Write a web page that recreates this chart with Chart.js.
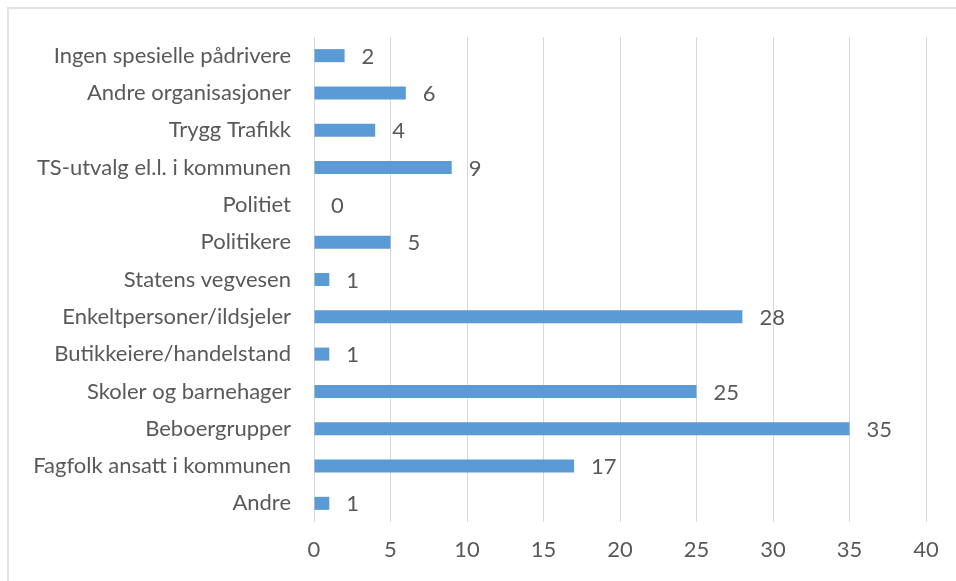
<!DOCTYPE html>
<html>
<head>
<meta charset="utf-8">
<script src="https://cdn.jsdelivr.net/npm/chart.js@4"></script>
<style>
    body { margin: 0; background: #fff; }
    #frame { position: absolute; left: 7px; top: 7px; width: 949px; height: 574px;
             border-top: 2px solid #e3e3e3; border-left: 2px solid #e3e3e3; box-sizing: border-box; }
    #wrap { position: absolute; left: 0; top: 0; width: 956px; height: 581px; }
</style>
</head>
<body>
<div id="frame"></div>
<div id="wrap"><canvas id="chart"></canvas></div>
<script>
// kategorier (ovenfra og ned)
const categories = [
    "Ingen spesielle pådrivere",
    "Andre organisasjoner",
    "Trygg Trafikk",
    "TS-utvalg el.l. i kommunen",
    "Politiet",
    "Politikere",
    "Statens vegvesen",
    "Enkeltpersoner/ildsjeler",
    "Butikkeiere/handelstand",
    "Skoler og barnehager",
    "Beboergrupper",
    "Fagfolk ansatt i kommunen",
    "Andre"
];
const values = [2, 6, 4, 9, 0, 5, 1, 28, 1, 25, 35, 17, 1];
const xTicks = [0, 5, 10, 15, 20, 25, 30, 35, 40];

const textColor = '#595959';
const fontFamily = 'Lato, "Open Sans", sans-serif';
const fontSize = 22;

// tall til høyre for søylene
const valueLabels = {
    id: 'valueLabels',
    afterDatasetsDraw(chart) {
        const ctx = chart.ctx;
        const meta = chart.getDatasetMeta(0);
        ctx.save();
        ctx.fillStyle = textColor;
        ctx.font = fontSize + 'px ' + fontFamily;
        ctx.textBaseline = 'middle';
        ctx.textAlign = 'left';
        meta.data.forEach((bar, i) => {
            ctx.fillText(values[i], bar.x + 17, bar.y + 1);
        });
        ctx.restore();
    }
};

new Chart(document.getElementById('chart'), {
    type: 'bar',
    data: {
        labels: categories,
        datasets: [{
            data: values,
            backgroundColor: '#5b9bd5',
            barPercentage: 0.35,
            categoryPercentage: 1.0
        }]
    },
    options: {
        indexAxis: 'y',
        responsive: true,
        maintainAspectRatio: false,
        animation: false,
        layout: { padding: { left: 0, right: 30, top: 37, bottom: 0 } },
        plugins: { legend: { display: false }, tooltip: { enabled: false } },
        scales: {
            x: {
                min: 0, max: 40,
                afterBuildTicks: axis => { axis.ticks = xTicks.map(v => ({ value: v })); },
                afterFit: axis => { axis.height = 59; },
                grid: { color: '#d9d9d9', drawTicks: false },
                border: { display: false },
                ticks: { color: textColor, font: { size: fontSize, family: fontFamily }, padding: 15 }
            },
            y: {
                afterFit: axis => { axis.width = 314; },
                grid: { display: false, drawTicks: false },
                border: { display: false },
                ticks: { color: textColor, font: { size: fontSize, family: fontFamily }, padding: 23, autoSkip: false }
            }
        }
    },
    plugins: [valueLabels]
});
</script>
</body>
</html>
